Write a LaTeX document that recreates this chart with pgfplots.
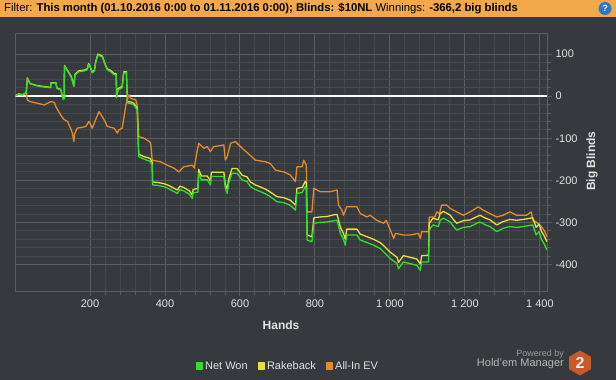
\documentclass[border=0pt]{standalone}
\usepackage{fontspec}
\setmainfont{Liberation Sans}
\usepackage{pgfplots}
\pgfplotsset{compat=1.18}
\usetikzlibrary{shapes.geometric}
\definecolor{bg}{HTML}{36393D}
\definecolor{gridmin}{HTML}{46484B}
\definecolor{gridmaj}{HTML}{5B5D60}
\definecolor{titlebar}{HTML}{F2A94B}
\definecolor{txt}{HTML}{E2E2E2}
\definecolor{netwon}{HTML}{33DD2E}
\definecolor{rake}{HTML}{E6DF3E}
\definecolor{allin}{HTML}{E38A2E}
\definecolor{hexc}{HTML}{C85A28}
\definecolor{helpblue}{HTML}{2A78C8}
\definecolor{pow}{HTML}{9A9A9A}
\definecolor{hem}{HTML}{B8B8B8}
\begin{document}
\begin{tikzpicture}
\fill[bg] (0,0) rectangle (616bp,380bp);
\fill[titlebar] (0,362.5bp) rectangle (616bp,380bp);
\node[anchor=west, inner sep=0pt, text=black, font=\fontsize{11.3bp}{13bp}\selectfont] at (4bp,371bp)
  {Filter: \textbf{This month (01.10.2016 0:00 to 01.11.2016 0:00); Blinds: \$10NL} Winnings: \textbf{-366,2 big blinds}};
\fill[helpblue] (605bp,371.5bp) circle (6.5bp);
\node[text=white, font=\bfseries\fontsize{9bp}{10bp}\selectfont, inner sep=0pt] at (605bp,371.5bp) {?};
\begin{axis}[
  at={(15bp,89bp)}, anchor=south west,
  scale only axis, width=532bp, height=258bp,
  xmin=0, xmax=1419, ymin=-463, ymax=150,
  xtick={200,400,600,800,1000,1200,1400},
  xticklabels={200,400,600,800,1 000,1 200,1 400},
  ytick={-400,-300,-200,-100,0,100},
  yticklabels={-400,-300,-200,-100,0,100},
  minor x tick num=4, minor y tick num=4,
  grid=both,
  major grid style={color=gridmaj, line width=0.9bp},
  minor grid style={color=gridmin, line width=0.9bp},
  axis line style={color=gridmaj, line width=0.9bp},
  tick style={color=gridmaj, line width=0.9bp},
  xtick pos=bottom, ytick pos=right, yticklabel pos=right,
  tick align=outside, major tick length=5bp, minor tick length=4bp,
  ticklabel style={font=\fontsize{11bp}{13bp}\selectfont, text=txt},
  yticklabel style={anchor=west, xshift=0bp},
  legend columns=3, reverse legend,
  legend style={at={(0.513,-0.2907)}, anchor=center, draw=none, fill=none,
    font=\fontsize{11bp}{13bp}\selectfont, text=txt,
    /tikz/every even column/.append style={column sep=8bp}},
]
\addplot[white, line width=2bp, forget plot] coordinates {(0,0) (1419,0)};
\addplot[allin, line width=1.3bp, line join=round,
  legend image code/.code={\fill[allin] (0bp,-3bp) rectangle (6bp,3bp);}] coordinates {
(0,0) (10,5) (20,3) (30,8) (33,-9) (40,-13) (60,-17) (78,-21) (95,-13) (105,-15)
(109,-25) (122,-45) (130,-55) (140,-60) (150,-80) (153,-88) (157,-108) (159,-90) (166,-76) (180,-74)
(189,-72) (197,-60) (206,-76) (215,-56) (224,-37) (228,-42) (233,-49) (240,-60) (246,-72) (255,-74)
(264,-76) (273,-88) (277,-80) (286,-76) (295,-25) (300,-5) (304,3) (308,-5) (322,-9) (326,-21)
(330,-96) (344,-100) (358,-108) (362,-112) (366,-152) (388,-156) (406,-164) (424,-171) (437,-180) (450,-168)
(473,-164) (478,-171) (484,-140) (490,-112) (504,-124) (513,-120) (521,-132) (530,-120) (557,-116) (561,-152)
(566,-144) (575,-112) (588,-108) (597,-116) (606,-124) (619,-134) (641,-152) (668,-156) (681,-160) (695,-176)
(717,-180) (734,-187) (748,-203) (752,-168) (766,-168) (770,-152) (777,-164) (779,-275) (792,-275) (797,-219)
(814,-227) (841,-227) (859,-223) (863,-259) (872,-271) (876,-283) (885,-263) (912,-263) (921,-279) (939,-287)
(947,-283) (965,-295) (983,-302) (990,-295) (1001,-318) (1010,-338) (1015,-326) (1036,-330) (1054,-330) (1076,-326)
(1081,-338) (1085,-322) (1103,-322) (1105,-287) (1120,-287) (1125,-275) (1132,-279) (1138,-259) (1152,-259) (1161,-267)
(1178,-275) (1196,-283) (1214,-275) (1236,-263) (1249,-271) (1267,-279) (1285,-287) (1302,-283) (1320,-275) (1338,-283)
(1364,-283) (1377,-275) (1381,-295) (1390,-299) (1404,-310) (1412,-320) (1419,-334)
};
\addplot[rake, line width=1.3bp, line join=round,
  legend image code/.code={\fill[rake] (0bp,-3bp) rectangle (6bp,3bp);}] coordinates {
(0,0) (10,5) (20,3) (30,8) (33,43) (40,30) (55,26) (75,23) (95,21) (96,32)
(109,32) (112,19) (122,16) (128,-6) (131,-6) (132,73) (140,61) (150,47) (157,25) (160,52)
(170,60) (185,62) (193,65) (196,77) (200,72) (206,57) (212,62) (215,81) (221,100) (228,97)
(233,95) (240,77) (246,65) (255,61) (264,54) (270,53) (271,-1) (275,18) (286,23) (290,58)
(297,58) (300,-13) (310,-14) (317,-17) (326,-28) (330,-138) (345,-144) (360,-148) (366,-157) (367,-204)
(380,-205) (397,-208) (410,-212) (420,-217) (433,-223) (440,-214) (450,-217) (465,-225) (473,-235) (475,-222)
(488,-219) (490,-174) (497,-190) (513,-190) (521,-201) (524,-181) (540,-181) (557,-181) (561,-209) (566,-221)
(570,-197) (579,-172) (592,-172) (606,-188) (619,-192) (628,-204) (641,-211) (655,-216) (668,-221) (681,-228)
(699,-239) (716,-241) (734,-247) (748,-259) (752,-219) (766,-217) (774,-203) (777,-206) (779,-330) (792,-334)
(797,-289) (814,-287) (832,-286) (850,-282) (859,-281) (868,-312) (876,-326) (881,-340) (885,-316) (912,-316)
(921,-328) (939,-334) (956,-340) (974,-348) (983,-355) (1001,-371) (1010,-377) (1019,-383) (1023,-395) (1036,-379)
(1054,-383) (1072,-387) (1081,-399) (1085,-379) (1103,-378) (1105,-302) (1115,-290) (1129,-294) (1134,-279) (1143,-274)
(1161,-283) (1170,-294) (1178,-302) (1196,-296) (1214,-294) (1240,-283) (1255,-290) (1267,-294) (1285,-306) (1302,-298)
(1320,-293) (1338,-295) (1355,-293) (1381,-289) (1390,-312) (1398,-304) (1404,-321) (1412,-333) (1419,-346)
};
\addplot[netwon, line width=1.3bp, line join=round,
  legend image code/.code={\fill[netwon] (0bp,-3bp) rectangle (6bp,3bp);}] coordinates {
(0,0) (10,5) (20,3) (30,8) (33,43) (40,30) (55,25) (75,22) (95,20) (96,31)
(109,31) (112,18) (122,15) (128,-7) (131,-7) (132,72) (140,60) (150,45) (157,23) (160,50)
(170,58) (185,60) (193,63) (196,75) (200,70) (206,55) (212,60) (215,79) (221,98) (228,95)
(233,93) (240,75) (246,63) (255,58) (264,51) (270,50) (271,-4) (275,15) (286,20) (290,55)
(297,55) (300,-16) (310,-18) (317,-21) (326,-33) (330,-144) (345,-150) (360,-155) (366,-164) (367,-211)
(380,-212) (397,-215) (410,-220) (420,-225) (433,-231) (440,-222) (450,-225) (465,-233) (473,-243) (475,-230)
(488,-228) (490,-183) (497,-199) (513,-199) (521,-211) (524,-191) (540,-191) (557,-191) (561,-219) (566,-231)
(570,-207) (579,-183) (592,-183) (606,-199) (619,-203) (628,-215) (641,-222) (655,-227) (668,-232) (681,-239)
(699,-251) (716,-253) (734,-259) (748,-271) (752,-231) (766,-229) (774,-215) (777,-218) (779,-342) (792,-346)
(797,-302) (814,-300) (832,-299) (850,-296) (859,-295) (868,-326) (876,-340) (881,-354) (885,-330) (912,-330)
(921,-342) (939,-348) (956,-354) (974,-362) (983,-370) (1001,-386) (1010,-392) (1019,-398) (1023,-410) (1036,-394)
(1054,-398) (1072,-402) (1081,-414) (1085,-394) (1103,-394) (1105,-318) (1115,-306) (1129,-310) (1134,-295) (1143,-290)
(1161,-299) (1170,-310) (1178,-318) (1196,-312) (1214,-310) (1240,-299) (1255,-306) (1267,-310) (1285,-322) (1302,-314)
(1320,-310) (1338,-312) (1355,-310) (1381,-306) (1390,-330) (1398,-322) (1404,-340) (1412,-352) (1419,-366)
};
\legend{All-In EV,Rakeback,Net Won}
\end{axis}
\node[text=txt, font=\bfseries\fontsize{12bp}{14bp}\selectfont] at (281bp,55bp) {Hands};
\node[text=txt, rotate=90, font=\bfseries\fontsize{12bp}{14bp}\selectfont] at (592bp,219bp) {Big Blinds};
\node[anchor=east, text=pow, font=\fontsize{9bp}{10bp}\selectfont, inner sep=0pt] at (564bp,26bp) {Powered by};
\node[anchor=east, text=hem, font=\fontsize{11bp}{12bp}\selectfont, inner sep=0pt] at (564bp,16bp) {Hold'em Manager};
\node[regular polygon, regular polygon sides=6, shape border rotate=30, fill=hexc, minimum size=25bp, inner sep=0pt] at (580bp,17bp) {};
\node[text=white!85!gray, font=\bfseries\fontsize{16bp}{18bp}\selectfont] at (580bp,17bp) {2};
\end{tikzpicture}
\end{document}
